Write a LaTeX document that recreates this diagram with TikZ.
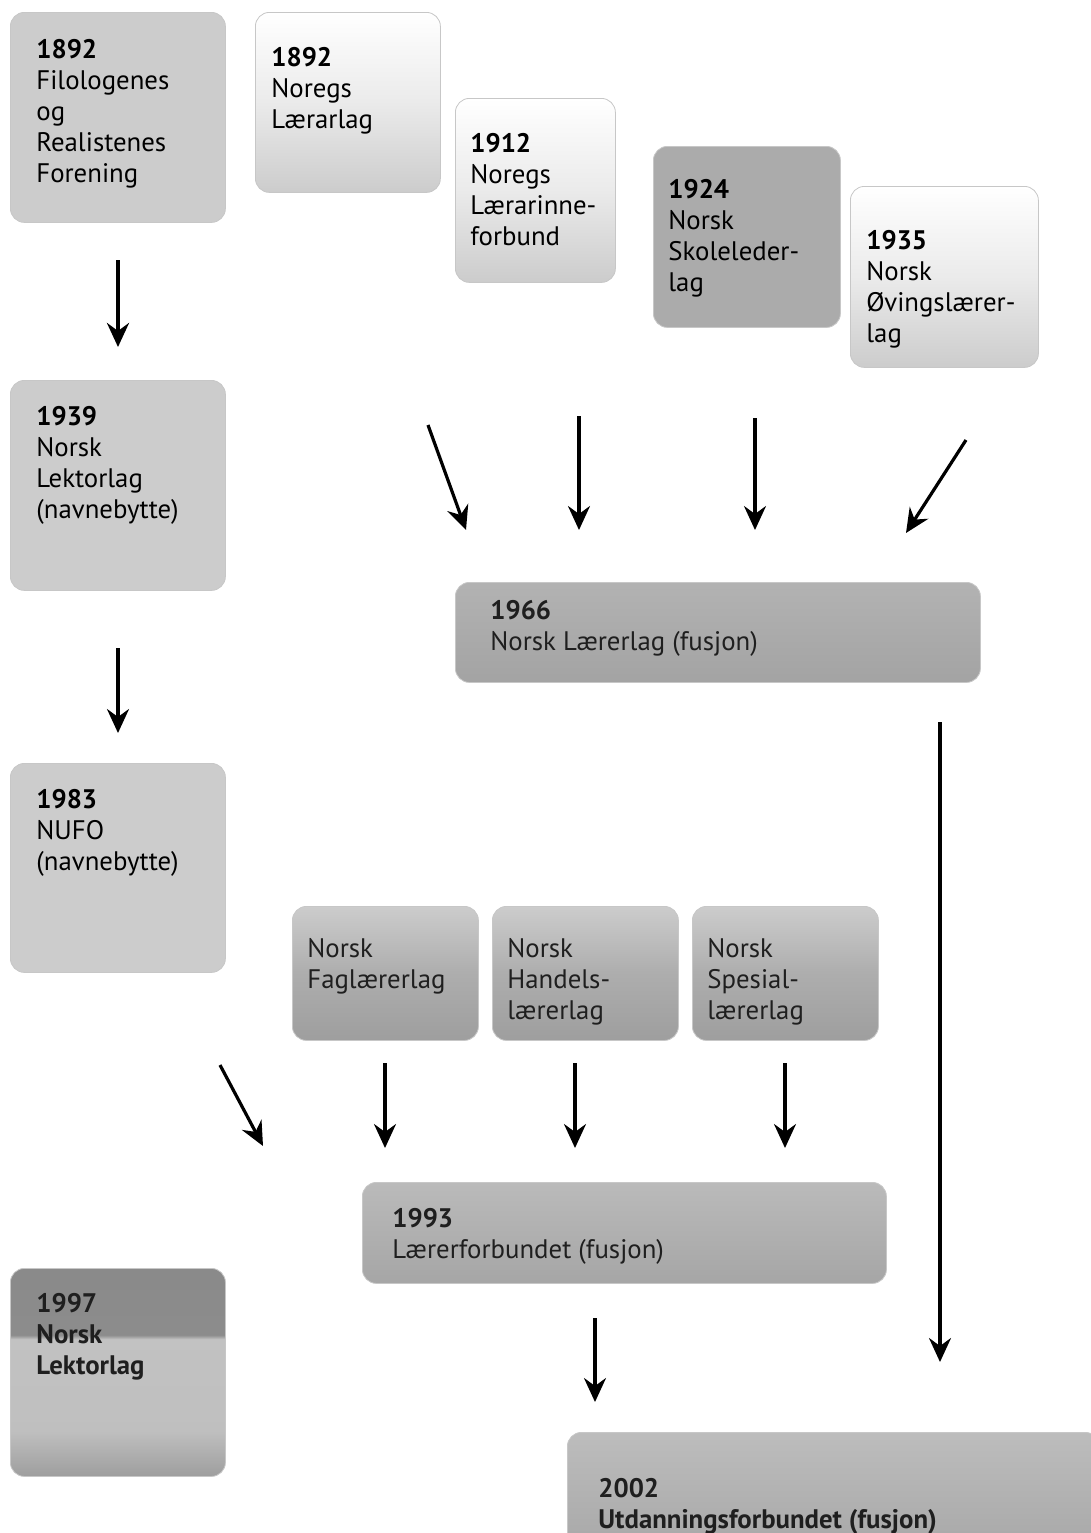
\documentclass[tikz,border=0pt]{standalone}
\usepackage{fontspec}
\setmainfont{PT Sans}
\usetikzlibrary{arrows.meta}
\pgfdeclareverticalshading{mshade}{100bp}{color(0bp)=(black!38); color(25bp)=(black!38); color(36bp)=(black!25); color(58bp)=(black!24); color(59bp)=(black!45); color(75bp)=(black!46); color(100bp)=(black!46)}
\begin{document}
\begin{tikzpicture}[x=0.5pt,y=-0.5pt,
  box/.style={draw=black!22, line width=0.4pt, rounded corners=7pt, anchor=north west, inner sep=0pt},
  txt/.style={anchor=north west, inner sep=0pt, align=left, font=\fontsize{13.4}{15.5}\selectfont, text=black},
  dtxt/.style={txt, text=black!88},
  arr/.style={line width=1.6pt, -{Stealth[length=12pt, width=11pt, inset=4pt]}},
  flat1/.style={fill=black!20},
  flat2/.style={fill=black!33},
  fade/.style={top color=white, bottom color=black!20, middle color=black!8},
  dark/.style={top color=black!20, bottom color=black!38, middle color=black!32}
]
\clip (0,0) rectangle (1091,1533);
\fill[white] (0,0) rectangle (1091,1533);

% boxes
\node[box, flat1, minimum width=107.5pt, minimum height=105pt] (A) at (10,12) {};
\node[box, fade, minimum width=92.5pt, minimum height=90pt] (B) at (255,12) {};
\node[box, fade, minimum width=80pt, minimum height=92pt] (C) at (455,98) {};
\node[box, flat2, minimum width=93.5pt, minimum height=90.5pt] (D) at (653,146) {};
\node[box, fade, minimum width=94pt, minimum height=90.5pt] (E) at (850,186) {};
\node[box, flat1, minimum width=107.5pt, minimum height=105pt] (F) at (10,380) {};
\node[box, top color=black!30, bottom color=black!36, minimum width=262.5pt, minimum height=50pt] (G) at (455,582) {};
\node[box, flat1, minimum width=107.5pt, minimum height=104.5pt] (H) at (10,763) {};
\node[box, dark, minimum width=93pt, minimum height=67pt] (I) at (292,906) {};
\node[box, dark, minimum width=93pt, minimum height=67pt] (J) at (492,906) {};
\node[box, dark, minimum width=93pt, minimum height=67pt] (K) at (692,906) {};
\node[box, top color=black!27, bottom color=black!35, minimum width=262pt, minimum height=50.5pt] (L) at (362,1182) {};
\node[box, shading=mshade, minimum width=107.5pt, minimum height=104pt] (M) at (10,1268) {};
\node[box, top color=black!26, bottom color=black!34, minimum width=266pt, minimum height=58pt] (N) at (567,1432) {};

% texts
\node[txt] (At) at (36,39) {\textbf{1892}\\Filologenes\\og\\Realistenes\\Forening};
\node[txt] (Bt) at (271,47) {\textbf{1892}\\Noregs\\Lærarlag};
\node[txt] (Ct) at (470,133) {\textbf{1912}\\Noregs\\Lærarinne-\\forbund};
\node[txt] (Dt) at (668,179) {\textbf{1924}\\Norsk\\Skoleleder-\\lag};
\node[txt] (Et) at (866,230) {\textbf{1935}\\Norsk\\Øvingslærer-\\lag};
\node[txt] (Ft) at (36,406) {\textbf{1939}\\Norsk\\Lektorlag\\(navnebytte)};
\node[dtxt] (Gt) at (490,600) {\textbf{1966}\\Norsk Lærerlag (fusjon)};
\node[txt] (Ht) at (36,789) {\textbf{1983}\\NUFO\\(navnebytte)};
\node[dtxt] (It) at (307,938) {Norsk\\Faglærerlag};
\node[dtxt] (Jt) at (507,938) {Norsk\\Handels-\\lærerlag};
\node[dtxt] (Kt) at (707,938) {Norsk\\Spesial-\\lærerlag};
\node[dtxt] (Lt) at (392,1208) {\textbf{1993}\\Lærerforbundet (fusjon)};
\node[dtxt] (Mt) at (36,1293) {\textbf{1997}\\\textbf{Norsk}\\\textbf{Lektorlag}};
\node[dtxt] (Nt) at (598,1478) {\textbf{2002}\\\textbf{Utdanningsforbundet (fusjon)}};

% arrow end points
\coordinate (a1s) at (118,260);  \coordinate (a1e) at (118,347);
\coordinate (a2s) at (118,648);  \coordinate (a2e) at (118,733);
\coordinate (a3s) at (428,425);  \coordinate (a3e) at (466,530);
\coordinate (a4s) at (579,416);  \coordinate (a4e) at (579,530);
\coordinate (a5s) at (755,418);  \coordinate (a5e) at (755,530);
\coordinate (a6s) at (966,440);  \coordinate (a6e) at (906,533);
\coordinate (a7s) at (940,722);  \coordinate (a7e) at (940,1362);
\coordinate (a8s) at (220,1065); \coordinate (a8e) at (263,1146);
\coordinate (a9s) at (385,1063); \coordinate (a9e) at (385,1148);
\coordinate (a10s) at (575,1063); \coordinate (a10e) at (575,1148);
\coordinate (a11s) at (785,1063); \coordinate (a11e) at (785,1148);
\coordinate (a12s) at (595,1318); \coordinate (a12e) at (595,1402);

\draw[arr, line width=2.2pt] (a1s) -- (a1e);
\foreach \i in {2,...,12} {\draw[arr] (a\i s) -- (a\i e);}
\end{tikzpicture}
\end{document}
